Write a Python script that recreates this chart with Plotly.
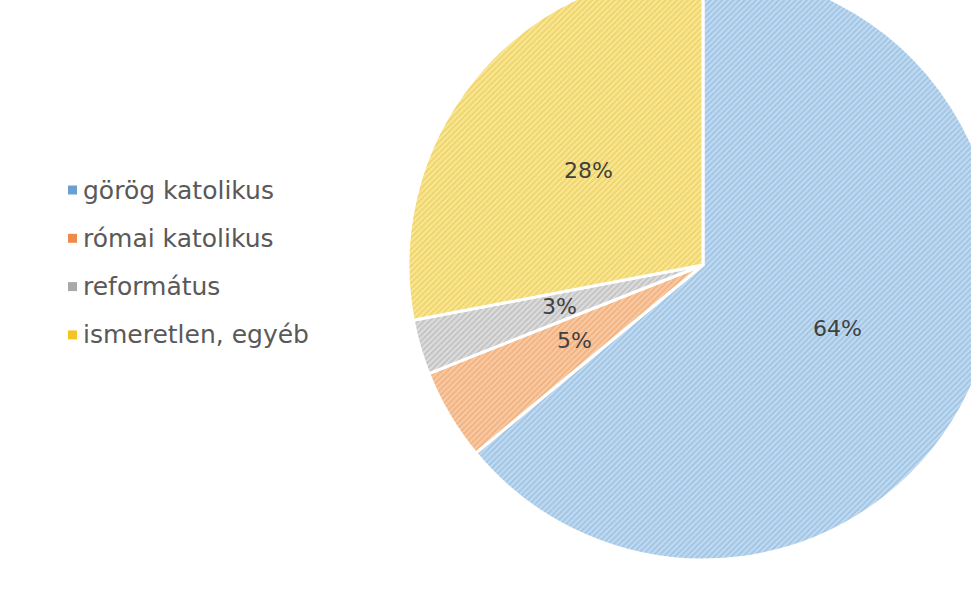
import math
import plotly.graph_objects as go

categories = ["görög katolikus", "római katolikus", "református", "ismeretlen, egyéb"]
values = [64, 5, 3, 28]
bg_colors = ["#c2dbf0", "#f8cba6", "#dedede", "#f9e794"]
fg_colors = ["#7fb0dc", "#ee9a5a", "#a8a8a8", "#e6c246"]
legend_colors = ["#6a9fd2", "#ee8a4a", "#a9a9a9", "#f4c324"]

W, H = 1000, 620
SHIFT = 30  # px hidden above the viewport
cx_px, cy_px, r_px = 703, 265 + SHIFT, 295

fig = go.Figure()
fig.add_trace(go.Pie(
    labels=categories,
    values=values,
    sort=False,
    direction="clockwise",
    rotation=0,
    textinfo="none",
    hoverinfo="label+percent",
    showlegend=False,
    domain=dict(x=[(cx_px - r_px) / W, (cx_px + r_px) / W],
                y=[1 - (cy_px + r_px) / H, 1 - (cy_px - r_px) / H]),
    marker=dict(
        colors=bg_colors,
        line=dict(color="white", width=3),
        pattern=dict(shape="/", fgcolor=fg_colors, bgcolor=bg_colors,
                     size=4, solidity=0.5, fillmode="overlay"),
    ),
))

# percentage labels at mid-angle, half radius (as in the original)
total = sum(values)
cum = 0
for v in values:
    mid = (cum + v / 2) / total * 2 * math.pi
    cum += v
    px = cx_px + 0.505 * r_px * math.sin(mid)
    py = cy_px - 0.505 * r_px * math.cos(mid)
    fig.add_annotation(x=px / W, y=1 - py / H, xref="paper", yref="paper",
                       text=f"{round(v / total * 100)}%", showarrow=False,
                       xanchor="center", yanchor="middle",
                       font=dict(family="DejaVu Sans", size=22, color="#404040"))

# legend
for i, (cat, col) in enumerate(zip(categories, legend_colors)):
    ly = 190 + SHIFT + i * 48.3
    fig.add_shape(type="rect", xref="paper", yref="paper",
                  x0=68 / W, x1=77 / W, y0=1 - (ly + 4.5) / H, y1=1 - (ly - 4.5) / H,
                  fillcolor=col, line=dict(width=0))
    fig.add_annotation(x=81 / W, y=1 - ly / H, xref="paper", yref="paper",
                       text=cat, showarrow=False, xanchor="left", yanchor="middle",
                       font=dict(family="DejaVu Sans", size=25, color="#595959"))

fig.update_layout(
    width=W, height=H,
    margin=dict(l=0, r=0, t=0, b=0),
    paper_bgcolor="white", plot_bgcolor="white",
)

post = ("var gd=document.getElementById('{plot_id}');"
        "document.documentElement.style.overflow='hidden';"
        "document.body.style.margin='0';"
        "document.body.style.overflow='hidden';"
        "gd.style.position='relative';gd.style.top='-" + str(SHIFT) + "px';")

fig.write_html("out.html", config={"displayModeBar": False}, post_script=post)
